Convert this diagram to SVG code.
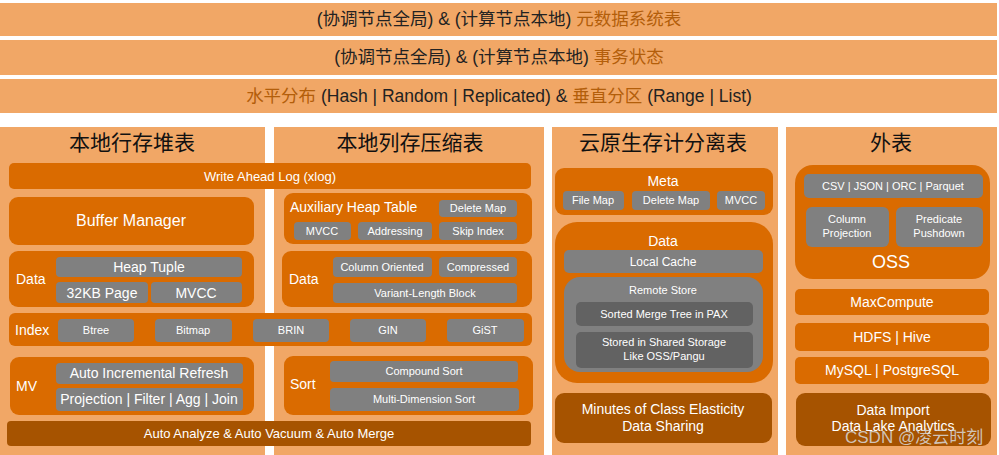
<svg xmlns="http://www.w3.org/2000/svg" width="999" height="455" viewBox="0 0 999 455">
<style>
text{font-family:"Liberation Sans","Noto Sans CJK SC",Arial,sans-serif;}
.bg{fill:#FFFFFF}
.lt{fill:#F1A766}
.dk{fill:#DA6B00}
.br{fill:#A65300}
.gr{fill:#808080}
.dg{fill:#626262}
.bt{font-size:17.5px;fill:#222;text-anchor:middle}
.bo{fill:#B35E0A}
.ttl{font-size:21px;fill:#111;text-anchor:middle}
.w{fill:#FFFFFF}
.c{text-anchor:middle}
.s11{font-size:11px}
.s12{font-size:12px}
.s13{font-size:13px}
.s14{font-size:14px}
.s15{font-size:15px}
.s16{font-size:16px}
</style>
<rect class="bg" x="0" y="0" width="999" height="455"/>
<g id="bar1"><rect class="lt" x="0" y="3" width="997" height="33"/><text class="bt" x="499" y="25">(协调节点全局) &amp; (计算节点本地) <tspan class="bo">元数据系统表</tspan></text></g>
<g id="bar2"><rect class="lt" x="0" y="40" width="997" height="35"/><text class="bt" x="499" y="63">(协调节点全局) &amp; (计算节点本地) <tspan class="bo">事务状态</tspan></text></g>
<g id="bar3"><rect class="lt" x="0" y="79" width="997" height="34"/><text class="bt" x="499" y="102"><tspan class="bo">水平分布</tspan> (Hash | Random | Replicated) &amp; <tspan class="bo">垂直分区</tspan> (Range | List)</text></g>

<g id="panel1"><rect class="lt" x="0" y="127" width="265" height="328"/><text class="ttl" x="132" y="150">本地行存堆表</text></g>
<g id="panel2"><rect class="lt" x="274" y="127" width="270" height="328"/><text class="ttl" x="410" y="150">本地列存压缩表</text></g>
<g id="panel3"><rect class="lt" x="552" y="127" width="226" height="328"/><text class="ttl" x="663" y="150">云原生存计分离表</text></g>
<g id="panel4"><rect class="lt" x="786" y="127" width="211" height="328"/><text class="ttl" x="891" y="150">外表</text></g>

<g id="wal"><rect class="dk" x="9" y="163" width="522" height="26" rx="5"/><text class="w c s13" x="270" y="181">Write Ahead Log (xlog)</text></g>
<g id="buffer"><rect class="dk" x="9" y="197" width="245" height="48" rx="9"/><text class="w c s16" x="131" y="226">Buffer Manager</text></g>
<g id="data1"><rect class="dk" x="9" y="251" width="245" height="56" rx="9"/><text class="w s14" x="16" y="284">Data</text>
<rect class="gr" x="56" y="257" width="186" height="20" rx="4"/><text class="w c s14" x="149" y="272">Heap Tuple</text>
<rect class="gr" x="56" y="282" width="92" height="21" rx="4"/><text class="w c s14" x="102" y="298">32KB Page</text>
<rect class="gr" x="151" y="282" width="91" height="21" rx="4"/><text class="w c s14" x="196" y="298">MVCC</text></g>

<g id="index"><rect class="dk" x="9" y="313" width="523" height="33" rx="6"/><text class="w s14" x="15" y="335">Index</text>
<rect class="gr" x="58" y="319" width="76" height="23" rx="4"/><text class="w c s11" x="96" y="334">Btree</text>
<rect class="gr" x="155" y="319" width="77" height="23" rx="4"/><text class="w c s11" x="193" y="334">Bitmap</text>
<rect class="gr" x="253" y="319" width="76" height="23" rx="4"/><text class="w c s11" x="291" y="334">BRIN</text>
<rect class="gr" x="350" y="319" width="76" height="23" rx="4"/><text class="w c s11" x="388" y="334">GIN</text>
<rect class="gr" x="447" y="319" width="77" height="23" rx="4"/><text class="w c s11" x="485" y="334">GiST</text></g>

<g id="mv"><rect class="dk" x="10" y="357" width="244" height="58" rx="9"/><text class="w s14" x="16" y="391">MV</text>
<rect class="gr" x="56" y="363" width="187" height="21" rx="4"/><text class="w c s14" x="149" y="378">Auto Incremental Refresh</text>
<rect class="gr" x="56" y="388" width="187" height="23" rx="4"/><text class="w c s14" x="149" y="404">Projection | Filter | Agg | Join</text></g>

<g id="sort"><rect class="dk" x="284" y="356" width="249" height="59" rx="9"/><text class="w s14" x="290" y="389">Sort</text>
<rect class="gr" x="330" y="361" width="188" height="21" rx="4"/><text class="w c s11" x="424" y="375">Compound Sort</text>
<rect class="gr" x="330" y="388" width="189" height="23" rx="4"/><text class="w c s11" x="424" y="403">Multi-Dimension Sort</text></g>

<g id="auto"><rect class="br" x="7" y="421" width="524" height="25" rx="4"/><text class="w c s13" x="269" y="438">Auto Analyze &amp; Auto Vacuum &amp; Auto Merge</text></g>

<g id="aux"><rect class="dk" x="284" y="193" width="248" height="51" rx="9"/><text class="w s14" x="290" y="212">Auxiliary Heap Table</text>
<rect class="gr" x="439" y="200" width="78" height="17" rx="4"/><text class="w c s11" x="478" y="212">Delete Map</text>
<rect class="gr" x="294" y="222" width="57" height="18" rx="4"/><text class="w c s11" x="322" y="235">MVCC</text>
<rect class="gr" x="358" y="222" width="74" height="18" rx="4"/><text class="w c s11" x="395" y="235">Addressing</text>
<rect class="gr" x="439" y="222" width="78" height="18" rx="4"/><text class="w c s11" x="478" y="235">Skip Index</text></g>

<g id="data2"><rect class="dk" x="282" y="251" width="250" height="56" rx="9"/><text class="w s14" x="289" y="284">Data</text>
<rect class="gr" x="333" y="257" width="99" height="20" rx="4"/><text class="w c s11" x="382" y="271">Column Oriented</text>
<rect class="gr" x="439" y="257" width="78" height="20" rx="4"/><text class="w c s11" x="478" y="271">Compressed</text>
<rect class="gr" x="333" y="283" width="184" height="20" rx="4"/><text class="w c s11" x="425" y="297">Variant-Length Block</text></g>

<g id="meta"><rect class="dk" x="555" y="168" width="218" height="47" rx="9"/><text class="w c s14" x="663" y="186">Meta</text>
<rect class="gr" x="563" y="191" width="61" height="19" rx="4"/><text class="w c s11" x="593" y="204">File Map</text>
<rect class="gr" x="632" y="191" width="78" height="19" rx="4"/><text class="w c s11" x="671" y="204">Delete Map</text>
<rect class="gr" x="717" y="191" width="48" height="19" rx="4"/><text class="w c s11" x="741" y="204">MVCC</text></g>

<g id="data3"><rect class="dk" x="555" y="222" width="218" height="161" rx="22"/><text class="w c s14" x="663" y="246">Data</text>
<rect class="gr" x="564" y="250" width="199" height="23" rx="5"/><text class="w c s12" x="663" y="266">Local Cache</text>
<rect class="gr" x="564" y="277" width="199" height="95" rx="16"/><text class="w c s11" x="663" y="294">Remote Store</text>
<rect class="dg" x="576" y="302" width="177" height="24" rx="5"/><text class="w c s11" x="664" y="318">Sorted Merge Tree in PAX</text>
<rect class="dg" x="576" y="332" width="177" height="36" rx="5"/><text class="w c s11" x="664" y="346">Stored in Shared Storage</text><text class="w c s11" x="664" y="360">Like OSS/Pangu</text></g>

<g id="minutes"><rect class="br" x="555" y="393" width="217" height="50" rx="9"/><text class="w c s14" x="663" y="414">Minutes of Class Elasticity</text><text class="w c s14" x="663" y="431">Data Sharing</text></g>

<g id="oss"><rect class="dk" x="795" y="165" width="195" height="114" rx="18"/>
<rect class="gr" x="804" y="174" width="179" height="24" rx="5"/><text class="w c s11" x="893" y="190">CSV | JSON | ORC | Parquet</text>
<rect class="gr" x="806" y="207" width="83" height="40" rx="6"/><text class="w c s11" x="847" y="223">Column</text><text class="w c s11" x="847" y="237">Projection</text>
<rect class="gr" x="896" y="207" width="87" height="40" rx="6"/><text class="w c s11" x="939" y="223">Predicate</text><text class="w c s11" x="939" y="237">Pushdown</text>
<text class="w c" style="font-size:18px" x="891" y="268">OSS</text></g>

<g id="maxcompute"><rect class="dk" x="795" y="289" width="194" height="26" rx="5"/><text class="w c s14" x="892" y="307">MaxCompute</text></g>
<g id="hdfs"><rect class="dk" x="795" y="323" width="194" height="28" rx="5"/><text class="w c s14" x="892" y="342">HDFS | Hive</text></g>
<g id="mysql"><rect class="dk" x="795" y="357" width="194" height="27" rx="5"/><text class="w c s14" x="892" y="375">MySQL | PostgreSQL</text></g>
<g id="dataimport"><rect class="br" x="796" y="393" width="195" height="53" rx="9"/><text class="w c s14" x="893" y="415">Data Import</text><text class="w c s14" x="893" y="431">Data Lake Analytics</text></g>

<g id="connectors"></g>
<text x="845" y="443" style="font-size:17px;fill:#D8D8D8;fill-opacity:0.85">CSDN @凌云时刻</text>
</svg>
